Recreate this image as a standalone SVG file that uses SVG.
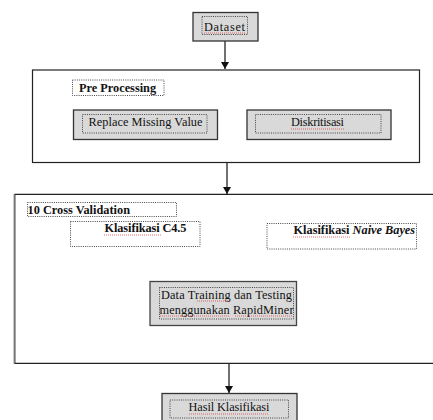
<svg xmlns="http://www.w3.org/2000/svg" width="433" height="420" viewBox="0 0 433 420" font-family="'Liberation Serif', 'Times New Roman', 'DejaVu Serif', serif">
<defs>
<style>
.box{fill:#d9d9d9;stroke:#333;stroke-width:1.3}
.frame{fill:#fff;stroke:#222;stroke-width:1.2}
.dot{fill:none;stroke:#333;stroke-width:0.9;stroke-dasharray:1 1.2}
.dotw{fill:#fff;stroke:#333;stroke-width:0.9;stroke-dasharray:1 1.2}
.t{font-size:12.3px;fill:#111}
.b{font-weight:bold}
.sq{fill:none;stroke:#e03030;stroke-width:0.7;stroke-dasharray:1 1}
.ln{stroke:#111;stroke-width:1.2;fill:none}
</style>
<marker id="ah" markerWidth="8" markerHeight="8" refX="7" refY="4" orient="auto" markerUnits="userSpaceOnUse">
<path d="M0,0 L7,4 L0,8 Z" fill="#111"/>
</marker>
</defs>

<g id="connectors">
<line class="ln" x1="225" y1="41" x2="225" y2="69" marker-end="url(#ah)"/>
<line class="ln" x1="227" y1="163" x2="227" y2="194" marker-end="url(#ah)"/>
<line class="ln" x1="229" y1="363" x2="229" y2="393" marker-end="url(#ah)"/>
</g>

<g id="dataset">
<rect class="box" x="193" y="12.5" width="65" height="28.5"/>
<rect class="dot" x="202" y="16.5" width="45.5" height="18"/>
<text class="t" x="204" y="30.5" textLength="41" lengthAdjust="spacing">Dataset</text>
<path class="sq" d="M204,33 H245"/>
</g>

<g id="preprocessing">
<rect class="frame" x="32.5" y="70" width="387" height="92.5"/>
<rect class="dotw" x="72.5" y="80" width="91.5" height="15.5"/>
<text class="t b" x="79" y="92">Pre Processing</text>
</g>

<g id="replace-missing-value">
<rect class="box" x="73.5" y="110" width="144" height="29.5"/>
<rect class="dot" x="82.5" y="114.5" width="124.5" height="18.5"/>
<text class="t" x="88.5" y="126" textLength="114" lengthAdjust="spacing">Replace Missing Value</text>
</g>

<g id="diskritisasi">
<rect class="box" x="247" y="110" width="144" height="29.5"/>
<rect class="dot" x="255.5" y="114.5" width="125.5" height="18.5"/>
<text class="t" x="291" y="126" textLength="53" lengthAdjust="spacing">Diskritisasi</text>
<path class="sq" d="M291,129 H344"/>
</g>

<g id="cross-validation">
<path d="M433,194.3 H14.8 V363.3 H433" fill="#fff" stroke="#222" stroke-width="1.2"/>
<line x1="14" y1="194" x2="14" y2="364" stroke="#999" stroke-width="1"/>
<rect class="dotw" x="27.5" y="202.5" width="149" height="14"/>
<text class="t b" x="27.5" y="213.5" textLength="102.5" lengthAdjust="spacing">10 Cross Validation</text>
</g>

<g id="klasifikasi-c45">
<rect class="dot" x="70.5" y="221.5" width="129.5" height="25"/>
<text class="t b" x="104.5" y="232" textLength="82" lengthAdjust="spacing">Klasifikasi C4.5</text>
<path class="sq" d="M104,235 H162"/>
</g>

<g id="klasifikasi-naive-bayes">
<rect class="dot" x="267" y="223.5" width="149.5" height="25.5"/>
<text class="t b" x="293.5" y="234">Klasifikasi <tspan font-style="italic">Naive Bayes</tspan></text>
<path class="sq" d="M293,237 H350"/>
</g>

<g id="data-training-testing">
<rect x="150" y="281.5" width="146.5" height="44" fill="#d9d9d9" stroke="#444" stroke-width="1.3"/>
<rect class="dot" x="159.5" y="287.5" width="134" height="31.5"/>
<text class="t" x="161" y="298.5" textLength="131" lengthAdjust="spacing">Data Training dan Testing</text>
<text class="t" x="159.5" y="313.5" textLength="134" lengthAdjust="spacing">menggunakan RapidMiner</text>
<path class="sq" d="M197,301 H231"/>
<path class="sq" d="M160,316 H229 M235,316 H292"/>
</g>

<g id="hasil-klasifikasi">
<rect class="box" x="162" y="393.5" width="135" height="30"/>
<rect class="dot" x="170" y="400" width="118.5" height="18"/>
<text class="t" x="188.5" y="411" textLength="81" lengthAdjust="spacing">Hasil Klasifikasi</text>
<path class="sq" d="M189,414 H269"/>
</g>
</svg>
